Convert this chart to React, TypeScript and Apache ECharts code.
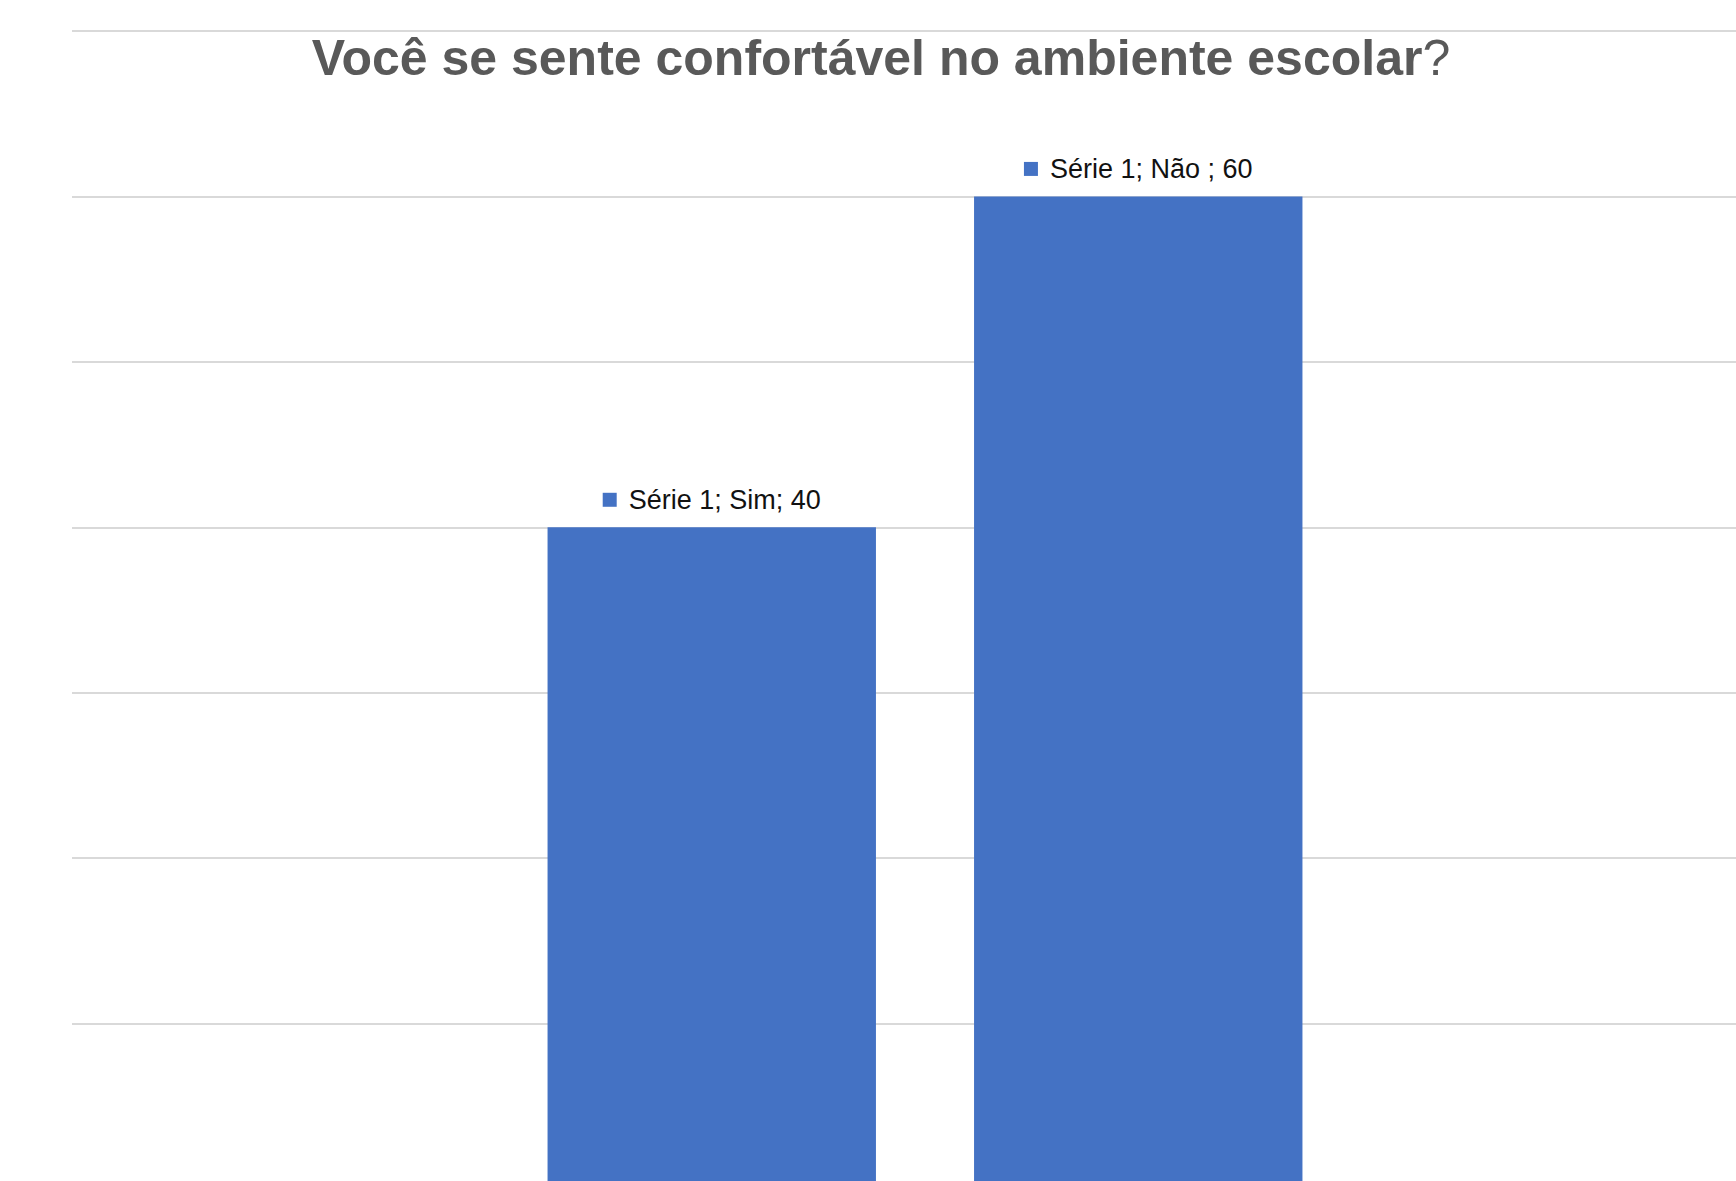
import React, { useEffect, useRef } from "react";
import * as echarts from "echarts";

const titleText = "Você se sente confortável no ambiente escolar";
const seriesName = "Série 1";
const categories = ["", "Sim", "Não ", " "];
const values: (number | string)[] = ["-", 40, 60, "-"];
const yMin = 0;
const yMax = 70;
const yInterval = 10;

const BLUE = "#4472C4";

export default function App() {
  const ref = useRef<HTMLDivElement>(null);
  useEffect(() => {
    if (!ref.current) return;
    const chart = echarts.init(ref.current, undefined, { renderer: "svg" });
    chart.setOption({
      animation: false,
      backgroundColor: "#ffffff",
      grid: {
        left: 72,
        right: -42,
        top: 31,
        bottom: -8,
        outerBoundsMode: "none",
        containLabel: false,
      },
      graphic: [
        {
          type: "text",
          x: 881,
          y: 58,
          style: {
            text: "{b|" + titleText + "}{q|?}",
            align: "center",
            verticalAlign: "middle",
            rich: {
              b: {
                fontFamily: "Liberation Sans, Arial, sans-serif",
                fontSize: 50,
                fontWeight: "bold",
                fill: "#595959",
                color: "#595959",
              },
              q: {
                fontFamily: "Liberation Sans, Arial, sans-serif",
                fontSize: 50,
                fontWeight: "normal",
                fill: "#595959",
                color: "#595959",
              },
            },
          },
        },
      ],
      xAxis: {
        type: "category",
        data: categories,
        axisLine: { show: false },
        axisTick: { show: false },
        axisLabel: { show: false },
        splitLine: { show: false },
      },
      yAxis: {
        type: "value",
        min: yMin,
        max: yMax,
        interval: yInterval,
        axisLine: { show: false },
        axisTick: { show: false },
        axisLabel: { show: false },
        splitLine: { show: true, lineStyle: { color: "#d9d9d9", width: 2 } },
      },
      series: [
        {
          name: seriesName,
          type: "bar",
          data: values,
          barCategoryGap: "23%",
          itemStyle: { color: BLUE },
          label: {
            show: true,
            position: "top",
            distance: 14,
            formatter: (p: any) =>
              `{m|}{s|}{t|${seriesName}; ${p.name}; ${p.value}}`,
            rich: {
              m: { width: 14, height: 14, backgroundColor: BLUE },
              s: { width: 12, height: 14 },
              t: {
                fontFamily: "Liberation Sans, Arial, sans-serif",
                fontSize: 27,
                color: "#111111",
              },
            },
          },
        },
      ],
    });
    return () => chart.dispose();
  }, []);
  return (
    <div
      ref={ref}
      style={{ position: "absolute", left: 0, top: 0, width: 1736, height: 1181 }}
    />
  );
}
